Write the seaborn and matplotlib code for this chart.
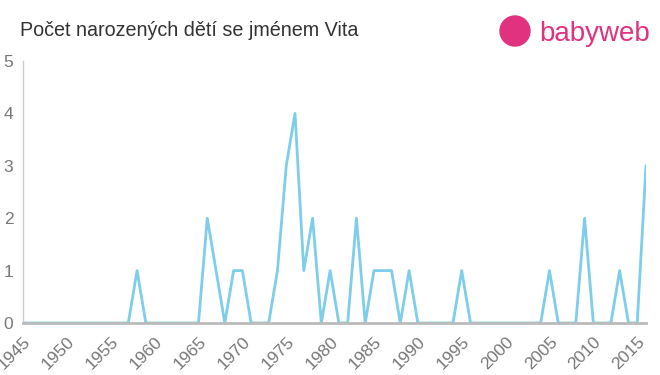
import matplotlib
matplotlib.use("Agg")
import matplotlib.pyplot as plt
import seaborn as sns
import pandas as pd
from matplotlib.patches import Ellipse

years = list(range(1945, 2017))
nonzero = {1958: 1, 1966: 2, 1967: 1, 1969: 1, 1970: 1, 1974: 1, 1975: 3,
           1976: 4, 1977: 1, 1978: 2, 1980: 1, 1983: 2, 1985: 1, 1986: 1,
           1987: 1, 1989: 1, 1995: 1, 2005: 1, 2009: 2, 2013: 1, 2016: 3}
counts = [nonzero.get(y, 0) for y in years]
xticks = list(range(1945, 2016, 5))
yticks = [0, 1, 2, 3, 4, 5]
title = "Počet narozených dětí se jménem Vita"

df = pd.DataFrame({"rok": years, "pocet": counts})

sns.set_style("white")
plt.rcParams['font.family'] = ['Liberation Sans', 'DejaVu Sans']

fig = plt.figure(figsize=(6.6, 3.75), dpi=100)
ax = fig.add_axes([23/660, 1 - 323/375, (646-23)/660, (323-61)/375])
sns.lineplot(data=df, x="rok", y="pocet", ax=ax, color="#7dcdeb", linewidth=2)

ax.set_xlim(1945, 2016)
ax.set_ylim(0, 5)
ax.set_xticks(xticks)
ax.set_xticklabels([str(t) for t in xticks], rotation=45, ha="right",
                   rotation_mode="anchor", fontsize=12.5, color="#777777")
ax.set_yticks(yticks)
ax.set_yticklabels([str(t) for t in yticks], fontsize=12.5, color="#777777")
ax.tick_params(axis="x", length=5, width=1.5, color="#bbbbbb", pad=3)
ax.tick_params(axis="y", length=0, pad=7)
ax.set_xlabel("")
ax.set_ylabel("")
for s in ["top", "right"]:
    ax.spines[s].set_visible(False)
ax.spines["bottom"].set_color("#bbbbbb")
ax.spines["bottom"].set_linewidth(2)
ax.spines["left"].set_color("#cccccc")
ax.spines["left"].set_linewidth(1)
ax.grid(False)

fig.text(20/660, 1 - 31/375, title, fontsize=14.2, color="#333333", va="center", ha="left")

# logo
pink = "#e0327e"
circ = Ellipse((515/660, 1 - 31/375), 30/660, 30/375, transform=fig.transFigure,
               color=pink, clip_on=False)
fig.patches.append(circ)
fig.text(539/660, 1 - 34/375, "babyweb", fontsize=20, color=pink, va="center", ha="left")

fig.savefig("out.png", dpi=100)
